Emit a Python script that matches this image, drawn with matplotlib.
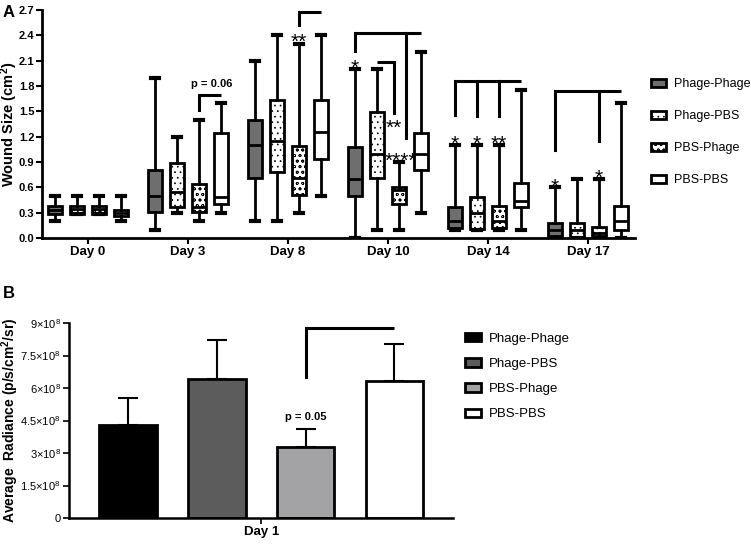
import matplotlib
matplotlib.use("Agg")
import matplotlib.pyplot as plt
from matplotlib.patches import Patch
import numpy as np

plt.rcParams["font.family"] = ["Liberation Sans", "DejaVu Sans"]
plt.rcParams["hatch.linewidth"] = 0.5
plt.rcParams["mathtext.fontset"] = "custom"
plt.rcParams["mathtext.rm"] = "Liberation Sans"
plt.rcParams["mathtext.it"] = "Liberation Sans"
plt.rcParams["mathtext.bf"] = "Liberation Sans:bold"

days = ["Day 0", "Day 3", "Day 8", "Day 10", "Day 14", "Day 17"]
groups = ["Phage-Phage", "Phage-PBS", "PBS-Phage", "PBS-PBS"]

# whisker low, q1, median, q3, whisker high (cm2), one row per day
phage_phage = [[0.20, 0.28, 0.33, 0.38, 0.50],
               [0.10, 0.31, 0.50, 0.81, 1.90],
               [0.20, 0.71, 1.10, 1.40, 2.10],
               [0.00, 0.50, 0.70, 1.08, 2.00],
               [0.10, 0.12, 0.20, 0.37, 1.10],
               [0.00, 0.02, 0.10, 0.18, 0.60]]
phage_pbs = [[0.28, 0.29, 0.34, 0.38, 0.50],
             [0.30, 0.37, 0.55, 0.89, 1.20],
             [0.20, 0.78, 1.15, 1.63, 2.40],
             [0.10, 0.71, 1.00, 1.49, 2.00],
             [0.10, 0.11, 0.30, 0.49, 1.10],
             [0.00, 0.01, 0.10, 0.18, 0.70]]
pbs_phage = [[0.28, 0.29, 0.34, 0.38, 0.50],
             [0.20, 0.31, 0.37, 0.64, 1.40],
             [0.30, 0.51, 0.71, 1.09, 2.30],
             [0.10, 0.40, 0.57, 0.60, 0.90],
             [0.10, 0.12, 0.20, 0.38, 1.10],
             [0.00, 0.02, 0.06, 0.13, 0.70]]
pbs_pbs = [[0.20, 0.26, 0.30, 0.33, 0.50],
           [0.30, 0.40, 0.48, 1.24, 1.60],
           [0.50, 0.94, 1.25, 1.63, 2.40],
           [0.30, 0.81, 1.00, 1.24, 2.20],
           [0.10, 0.37, 0.44, 0.65, 1.75],
           [0.00, 0.10, 0.20, 0.38, 1.60]]
wound = [phage_phage, phage_pbs, pbs_phage, pbs_pbs]

# significance marks panel A: (day, group, text, y)
stars_a = [(2, 2, "**", 2.41), (3, 0, "*", 2.10), (3, 1.77, "**", 1.39),
           (3, 2.09, "****", 1.00), (4, 0, "*", 1.20), (4, 1, "*", 1.20),
           (4, 2, "**", 1.20), (5, 0, "*", 0.69), (5, 2, "*", 0.80)]
# brackets panel A: (day, from group, to group, top y, [(group, bottom y), ...])
brackets_a = [(1, 2, 3, 1.69, [(2, 1.52)]),
              (2, 2, 3, 2.68, [(2, 2.52)]),
              (3, 0, 3, 2.43, [(0, 2.22), (2.32, 1.18)]),
              (3, 1, 1.77, 2.09, [(1.77, 1.48)]),
              (4, 0, 3, 1.86, [(0, 1.46), (1, 1.44), (2, 1.44)]),
              (5, 0, 3, 1.74, [(0, 1.04), (2, 1.15)])]

radiance = [4.30e8, 6.42e8, 3.28e8, 6.32e8]
radiance_err = [1.25e8, 1.80e8, 0.82e8, 1.71e8]
radiance_ticks = [0, 1.5e8, 3e8, 4.5e8, 6e8, 7.5e8, 9e8]
radiance_labels = ["0", r"$1.5{\times}10^8$", r"$3{\times}10^8$", r"$4.5{\times}10^8$",
                   r"$6{\times}10^8$", r"$7.5{\times}10^8$", r"$9{\times}10^8$"]

box_faces = ["#6e6e6e", "white", "white", "white"]
box_hatch = [None, "...", "ooo", None]
bar_colors = ["black", "#5c5c5c", "#a3a3a6", "white"]

offsets = [-0.33, -0.11, 0.11, 0.33]
step = 0.22


def xpos(day, g):
    return day + offsets[0] + g * step


fig = plt.figure(figsize=(7.51, 5.44), dpi=100)

# ---------------- panel A ----------------
ax = fig.add_axes([0.0559, 0.5625, 0.7896, 0.4191])
for g in range(4):
    stats = []
    for d in range(len(days)):
        lo, q1, med, q3, hi = wound[g][d]
        stats.append(dict(whislo=lo, q1=q1, med=med, q3=q3, whishi=hi, fliers=[]))
    pos = [xpos(d, g) for d in range(len(days))]
    res = ax.bxp(stats, positions=pos, widths=0.14, capwidths=0.075,
                 patch_artist=True, showfliers=False, manage_ticks=False,
                 boxprops=dict(linewidth=2.0, edgecolor="black", facecolor=box_faces[g]),
                 medianprops=dict(color="black", linewidth=2.0),
                 whiskerprops=dict(color="black", linewidth=2.0),
                 capprops=dict(color="black", linewidth=3.0))
    for b in res["boxes"]:
        if box_hatch[g]:
            b.set_hatch(box_hatch[g])

for day, g0, g1, top, drops in brackets_a:
    ax.plot([xpos(day, g0), xpos(day, g1)], [top, top], color="black", lw=2.2,
            solid_capstyle="butt", clip_on=False)
    for g, bot in drops:
        ax.plot([xpos(day, g)] * 2, [top, bot], color="black", lw=2.2, clip_on=False)

# asterisks sit high in their text box, so nudge them down
for day, g, txt, y in stars_a:
    ax.text(xpos(day, g), y - 0.09, txt, ha="center", va="center", fontsize=15)
ax.text((xpos(1, 2) + xpos(1, 3)) / 2 + 0.02, 1.82, "p = 0.06", ha="center",
        va="center", fontsize=8, fontweight="bold")

ax.set_xlim(-0.46, 5.47)
ax.set_ylim(0, 2.7)
ax.set_yticks(np.arange(0, 2.71, 0.3))
ax.set_yticklabels(["%.1f" % v for v in np.arange(0, 2.71, 0.3)], fontsize=8,
                   fontweight="bold")
ax.set_xticks(range(len(days)))
ax.set_xticklabels(days, fontsize=9.5, fontweight="bold")
ax.set_ylabel(r"Wound Size (cm$^{\mathbf{2}}$)", fontsize=10.5, fontweight="bold")
ax.yaxis.set_label_coords(-0.037, 0.5)
for s in ["top", "right"]:
    ax.spines[s].set_visible(False)
for s in ["left", "bottom"]:
    ax.spines[s].set_linewidth(2.0)
ax.tick_params(direction="out", width=1.5, length=4, pad=1.5)

handles = [Patch(facecolor=box_faces[g], edgecolor="black", hatch=box_hatch[g],
                 linewidth=2.0, label=groups[g]) for g in range(4)]
fig.legend(handles=handles, loc="upper left", bbox_to_anchor=(0.855, 0.872),
           frameon=False, fontsize=9, handlelength=1.25, handleheight=0.6,
           handletextpad=0.6, labelspacing=1.6, borderpad=0.2)

fig.text(0.004, 0.99, "A", fontsize=12, fontweight="bold", va="top")

# ---------------- panel B ----------------
bx = fig.add_axes([0.0919, 0.0478, 0.5113, 0.3584])
xb = np.arange(len(radiance))
bx.bar(xb, radiance, width=0.65, color=bar_colors, edgecolor="black", linewidth=2.0,
       zorder=2)
bx.errorbar(xb, radiance, yerr=[np.zeros(len(radiance)), radiance_err], fmt="none",
            ecolor="black", elinewidth=1.5, capsize=7, capthick=1.5, zorder=1)
bx.plot([xb[2], xb[3]], [8.77e8, 8.77e8], color="black", lw=2.2, solid_capstyle="butt")
bx.plot([xb[2], xb[2]], [8.77e8, 6.5e8], color="black", lw=2.2)
bx.text(xb[2], 4.66e8, "p = 0.05", ha="center", va="center", fontsize=8,
        fontweight="bold")
bx.set_xlim(-0.665, 3.66)
bx.set_ylim(0, 9e8)
bx.set_yticks(radiance_ticks)
bx.set_yticklabels(radiance_labels, fontsize=8)
bx.set_xticks([1.5])
bx.set_xticklabels(["Day 1"], fontsize=9.5, fontweight="bold")
bx.set_ylabel(r"Average  Radiance (p/s/cm$^{\mathbf{2}}$/sr)", fontsize=10,
              fontweight="bold")
bx.yaxis.set_label_coords(-0.125, 0.5)
for s in ["top", "right"]:
    bx.spines[s].set_visible(False)
for s in ["left", "bottom"]:
    bx.spines[s].set_linewidth(1.8)
bx.tick_params(direction="out", width=1.2, length=4, pad=2)

handles_b = [Patch(facecolor=bar_colors[g], edgecolor="black", linewidth=2.0,
                   label=groups[g]) for g in range(4)]
fig.legend(handles=handles_b, loc="upper left", bbox_to_anchor=(0.607, 0.405),
           frameon=False, fontsize=9.5, handlelength=1.2, handleheight=0.6,
           handletextpad=0.6, labelspacing=1.0, borderpad=0.2)

fig.text(0.004, 0.475, "B", fontsize=12, fontweight="bold", va="top")

fig.savefig("out.png", dpi=100)
